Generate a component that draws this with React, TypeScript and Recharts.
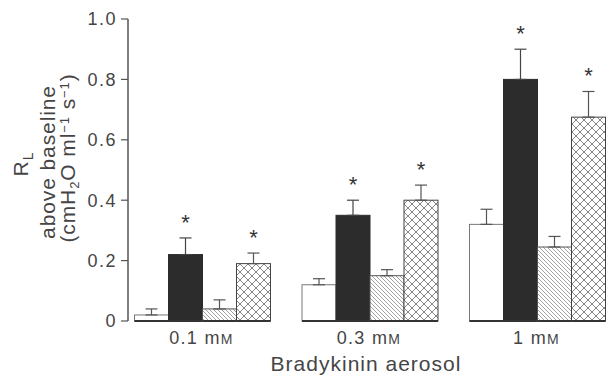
import { BarChart, Bar, XAxis, YAxis, ErrorBar } from "recharts";

// bradykinin dose groups
const groups = ["0.1 mM", "0.3 mM", "1 mM"];

// open bars
const openMean = [0.02, 0.12, 0.32];
const openErr = [0.02, 0.02, 0.05];
// solid bars
const solidMean = [0.22, 0.35, 0.8];
const solidErr = [0.055, 0.05, 0.1];
// single-hatched bars
const hatchMean = [0.04, 0.15, 0.245];
const hatchErr = [0.03, 0.02, 0.035];
// cross-hatched bars
const crossMean = [0.19, 0.4, 0.675];
const crossErr = [0.035, 0.05, 0.085];

const solidStar = [true, true, true];
const crossStar = [true, true, true];

const yTicks = [0, 0.2, 0.4, 0.6, 0.8, 1.0];

const data = groups.map((g, i) => ({
  group: g,
  open: openMean[i],
  openErr: openErr[i],
  solid: solidMean[i],
  solidErr: solidErr[i],
  solidStar: solidStar[i],
  hatch: hatchMean[i],
  hatchErr: hatchErr[i],
  cross: crossMean[i],
  crossErr: crossErr[i],
  crossStar: crossStar[i],
}));

const FONT = "'Liberation Sans', Arial, sans-serif";
const TEXT = "#454545";

const BarShape = (props: any) => {
  const { x, y, width, height, fill, payload, dataKey, edge } = props;
  const val = payload[dataKey];
  const err = payload[dataKey + "Err"];
  const star = payload[dataKey + "Star"];
  const ratio = val ? height / val : 0;
  const errTop = y - err * ratio;
  return (
    <g>
      <rect x={x} y={y} width={width} height={height} fill={fill} stroke={edge} strokeWidth={1} />
      <line x1={x} x2={x + width} y1={y + height} y2={y + height} stroke="#333" strokeWidth={2} />
      {star && (
        <text x={x + width / 2} y={errTop - 8} textAnchor="middle" fontSize={22} fill="#333" fontFamily={FONT}>
          *
        </text>
      )}
    </g>
  );
};

const GroupTick = (props: any) => {
  const { x, y, payload } = props;
  const [num, unit] = String(payload.value).split(" ");
  return (
    <text x={x} y={y + 15} textAnchor="middle" fontSize={18} letterSpacing={1.3} fill={TEXT} fontFamily={FONT}>
      {num} {unit[0]}
      <tspan fontSize={14}>{unit.slice(1)}</tspan>
    </text>
  );
};

const YLabel = (props: any) => {
  const { viewBox } = props;
  const cy = viewBox.y + viewBox.height / 2 - 8;
  const common = { fontSize: 21, letterSpacing: 0.9, fill: TEXT, fontFamily: FONT, textAnchor: "middle" as const };
  return (
    <g>
      <text {...common} transform={`translate(28,${cy + 2}) rotate(-90)`}>
        R<tspan fontSize={14} dy={5}>L</tspan>
      </text>
      <text {...common} transform={`translate(55,${cy}) rotate(-90)`}>
        above baseline
      </text>
      <text {...common} transform={`translate(75,${cy - 4}) rotate(-90)`}>
        (cmH<tspan fontSize={13} dy={4}>2</tspan>
        <tspan dy={-4}>O ml</tspan>
        <tspan fontSize={13} dy={-6}>−1</tspan>
        <tspan dy={6}> s</tspan>
        <tspan fontSize={13} dy={-6}>−1</tspan>
        <tspan dy={6}>)</tspan>
      </text>
    </g>
  );
};

const XLabel = (props: any) => {
  const { viewBox } = props;
  return (
    <text
      x={viewBox.x + viewBox.width / 2}
      y={viewBox.y + viewBox.height - 6}
      textAnchor="middle"
      fontSize={21}
      letterSpacing={1}
      fill={TEXT}
      fontFamily={FONT}
    >
      Bradykinin aerosol
    </text>
  );
};

export default function App() {
  return (
    <div style={{ position: "absolute", left: 0, top: 0, width: 607, height: 377, background: "#fff" }}>
      <svg width={0} height={0} style={{ position: "absolute" }}>
        <defs>
          <pattern id="hatch" patternUnits="userSpaceOnUse" width={4} height={4}>
            <rect width={4} height={4} fill="#fff" />
            <path d="M-1,-1 L5,5 M-1,3 L1,5 M3,-1 L5,1" stroke="#8a8a8a" strokeWidth={0.8} />
          </pattern>
          <pattern id="cross" patternUnits="userSpaceOnUse" width={8} height={8}>
            <rect width={8} height={8} fill="#fff" />
            <path d="M0,0 L8,8 M8,0 L0,8" stroke="#666" strokeWidth={0.8} />
          </pattern>
        </defs>
      </svg>
      <BarChart
        width={607}
        height={377}
        data={data}
        margin={{ top: 19, right: 3, left: 0, bottom: 0 }}
        barCategoryGap="10%"
        barGap={0}
      >
        <XAxis
          dataKey="group"
          axisLine={false}
          tickLine={false}
          height={56}
          padding={{ left: -10.25, right: -16.25 }}
          tick={<GroupTick />}
          label={<XLabel />}
        />
        <YAxis
          width={128}
          domain={[0, 1]}
          ticks={yTicks}
          tickFormatter={(v: number) => (v === 0 ? "0" : v.toFixed(1))}
          tick={{ fontSize: 18, letterSpacing: 1.5, fill: TEXT, fontFamily: FONT }}
          tickSize={7}
          tickMargin={4}
          axisLine={{ stroke: "#555", strokeWidth: 1.5 }}
          tickLine={{ stroke: "#555", strokeWidth: 1.2 }}
          label={<YLabel />}
        />
        <Bar dataKey="open" fill="#fff" isAnimationActive={false} shape={(p: any) => <BarShape {...p} dataKey="open" edge="#777" />}>
          <ErrorBar dataKey={(d: any) => [0, d.openErr]} width={6} stroke="#555" strokeWidth={1.2} />
        </Bar>
        <Bar dataKey="solid" fill="#2c2c2c" isAnimationActive={false} shape={(p: any) => <BarShape {...p} dataKey="solid" edge="#2c2c2c" />}>
          <ErrorBar dataKey={(d: any) => [0, d.solidErr]} width={6} stroke="#444" strokeWidth={1.2} />
        </Bar>
        <Bar dataKey="hatch" fill="url(#hatch)" isAnimationActive={false} shape={(p: any) => <BarShape {...p} dataKey="hatch" edge="#555" />}>
          <ErrorBar dataKey={(d: any) => [0, d.hatchErr]} width={6} stroke="#555" strokeWidth={1.2} />
        </Bar>
        <Bar dataKey="cross" fill="url(#cross)" isAnimationActive={false} shape={(p: any) => <BarShape {...p} dataKey="cross" edge="#444" />}>
          <ErrorBar dataKey={(d: any) => [0, d.crossErr]} width={6} stroke="#555" strokeWidth={1.2} />
        </Bar>
      </BarChart>
    </div>
  );
}
